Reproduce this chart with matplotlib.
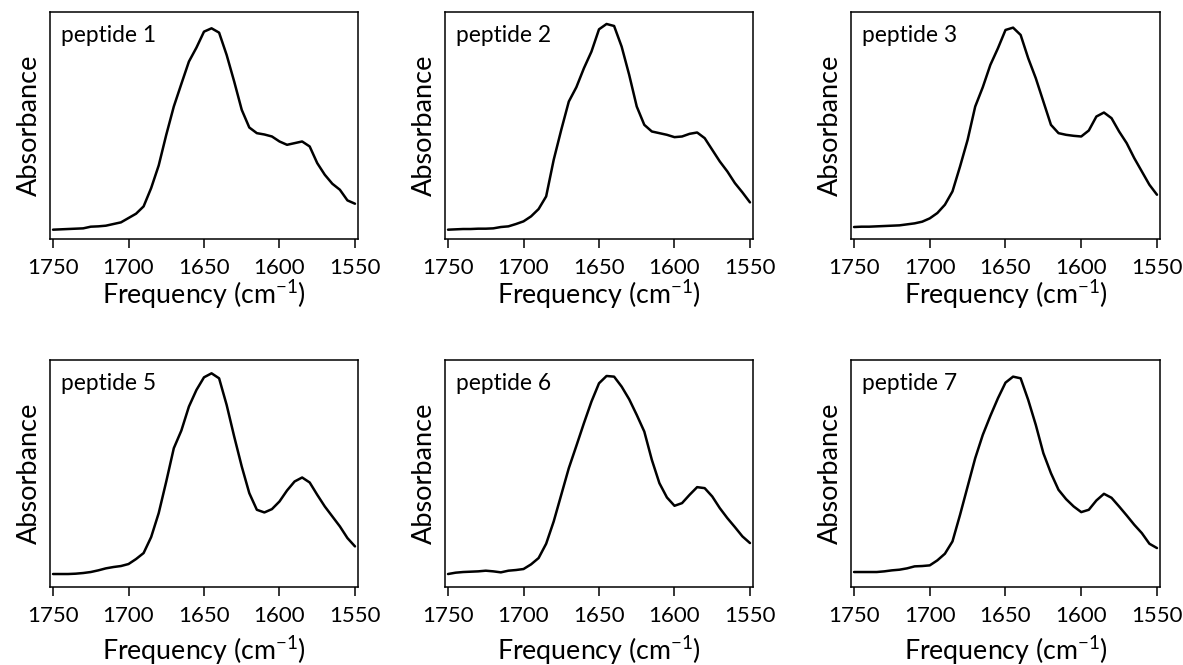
import matplotlib
matplotlib.use("Agg")
import matplotlib.pyplot as plt
import numpy as np

plt.rcParams["font.family"] = ["Lato", "DejaVu Sans"]
plt.rcParams["mathtext.fontset"] = "custom"
plt.rcParams["mathtext.rm"] = "Lato"
plt.rcParams["mathtext.it"] = "Lato"
plt.rcParams["mathtext.default"] = "regular"

# wavenumber grid, cm-1 (every 5 cm-1)
freq = np.arange(1750, 1549, -5)

# absorbance, arbitrary units (baseline-offset)
peptide_1 = [28, 29, 30, 31, 32, 37, 38, 40, 45, 50, 63, 76, 98, 153, 221, 313, 398, 466, 533, 575, 623,
             633, 620, 553, 473, 388, 335, 318, 314, 308, 293, 283, 288, 293, 278, 228, 193, 166, 148, 116, 106]
peptide_2 = [28, 29, 30, 30, 31, 31, 32, 36, 38, 45, 53, 68, 90, 128, 238, 328, 413, 456, 513, 563, 630,
             646, 640, 578, 493, 398, 343, 323, 318, 313, 306, 308, 316, 320, 303, 268, 233, 203, 168, 140, 110]
peptide_3 = [36, 37, 37, 38, 39, 40, 41, 44, 47, 52, 62, 78, 103, 143, 218, 298, 398, 456, 523, 573, 628,
             635, 613, 543, 483, 413, 343, 318, 313, 310, 308, 326, 368, 380, 363, 323, 288, 243, 203, 163, 133]
peptide_5 = [39, 39, 39, 40, 42, 45, 50, 56, 60, 63, 69, 84, 102, 150, 222, 317, 417, 470, 542, 592, 630,
             642, 627, 547, 452, 362, 282, 232, 224, 234, 257, 290, 317, 329, 314, 277, 242, 212, 182, 147, 122]
peptide_6 = [39, 43, 45, 46, 47, 49, 47, 44, 49, 51, 54, 68, 87, 130, 197, 277, 357, 424, 492, 557, 612,
             634, 632, 602, 564, 517, 467, 382, 312, 269, 244, 252, 277, 300, 297, 272, 237, 207, 180, 152, 132]
peptide_7 = [45, 45, 45, 45, 47, 50, 52, 56, 62, 63, 65, 80, 100, 137, 217, 302, 387, 457, 514, 567, 614,
             632, 627, 562, 487, 402, 342, 292, 264, 242, 225, 232, 260, 280, 268, 242, 215, 187, 162, 130, 117]

names = ["peptide 1", "peptide 2", "peptide 3", "peptide 5", "peptide 6", "peptide 7"]
spectra = [peptide_1, peptide_2, peptide_3, peptide_5, peptide_6, peptide_7]
xticks = [1750, 1700, 1650, 1600, 1550]

W, H = 1183, 665
fig = plt.figure(figsize=(W / 100, H / 100), dpi=100)

col_left = [50, 445, 851]
col_width = [308, 308, 309]
row_top = [12, 360]
box_h = 227

for i, (name, spec) in enumerate(zip(names, spectra)):
    r, c = divmod(i, 3)
    ax = fig.add_axes([col_left[c] / W, 1 - (row_top[r] + box_h) / H,
                       col_width[c] / W, box_h / H])
    ax.plot(freq, spec, color="black", lw=1.8, solid_joinstyle="round",
            solid_capstyle="round")
    ax.set_xlim(1752, 1548)
    ax.set_ylim(0, 682)
    ax.set_yticks([])
    ax.set_xticks(xticks)
    ax.tick_params(axis="x", direction="out", length=6.5, width=1.1,
                   labelsize=16, pad=7)
    for s in ax.spines.values():
        s.set_linewidth(1.1)
    ax.set_ylabel("Absorbance", fontsize=19.5, labelpad=6)
    ax.set_xlabel("Frequency (cm$^{-1}$)", fontsize=19.3,
                  labelpad=0 if r == 0 else 6)
    ax.text(0.036, 0.868, name, transform=ax.transAxes, fontsize=16.4,
            ha="left", va="baseline")

fig.savefig("out.png", dpi=100)
